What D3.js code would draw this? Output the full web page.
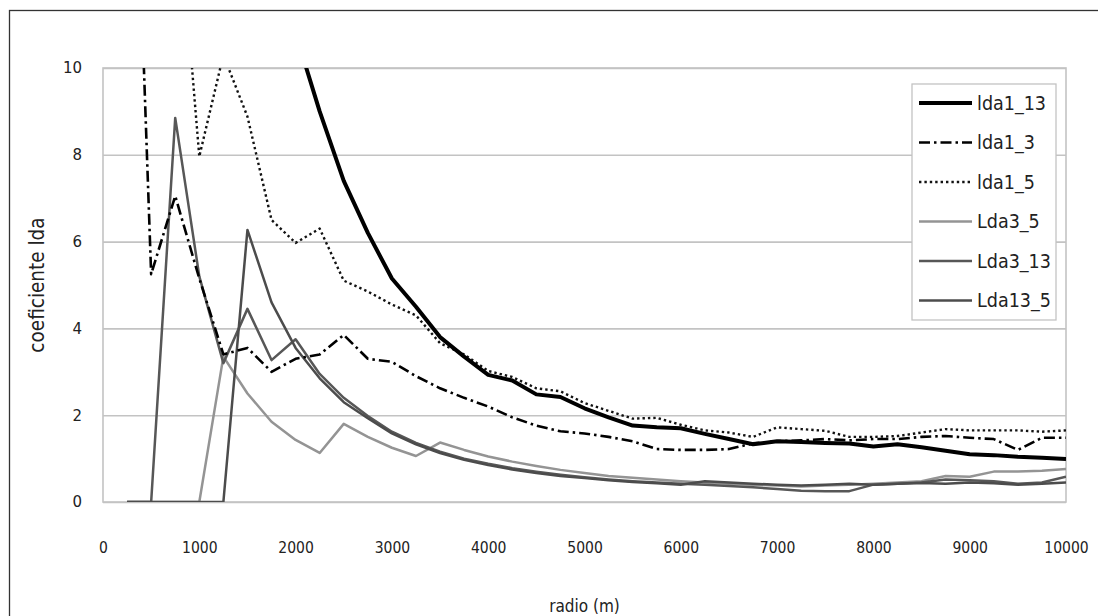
<!DOCTYPE html>
<html>
<head>
<meta charset="utf-8">
<script src="https://cdn.jsdelivr.net/npm/d3@7"></script>
<style>
  body { margin: 0; background: #fff; }
  svg { display: block; }
  text { font-family: "DejaVu Sans"; font-stretch: condensed; }
</style>
</head>
<body>
<svg id="chart" width="1098" height="616"></svg>
<script>
// radio (m), one point every 250 m
var radios = [250, 500, 750, 1000, 1250, 1500, 1750, 2000, 2250, 2500,
  2750, 3000, 3250, 3500, 3750, 4000, 4250, 4500, 4750, 5000,
  5250, 5500, 5750, 6000, 6250, 6500, 6750, 7000, 7250, 7500,
  7750, 8000, 8250, 8500, 8750, 9000, 9250, 9500, 9750, 10000];

var lda1_13 = [50, 38, 30, 25, 20, 16, 13, 10.8, 9.0, 7.4,
  6.2, 5.15, 4.5, 3.8, 3.35, 2.93, 2.8, 2.48, 2.42, 2.16,
  1.95, 1.76, 1.72, 1.7, 1.57, 1.45, 1.33, 1.4, 1.38, 1.36,
  1.35, 1.28, 1.33, 1.26, 1.18, 1.1, 1.08, 1.04, 1.02, 0.99];

var lda1_3 = [21, 5.25, 7.05, 5.15, 3.4, 3.55, 3.0, 3.3, 3.4, 3.85,
  3.3, 3.23, 2.9, 2.62, 2.4, 2.2, 1.95, 1.76, 1.63, 1.58,
  1.5, 1.4, 1.22, 1.2, 1.2, 1.22, 1.35, 1.4, 1.42, 1.45,
  1.42, 1.45, 1.45, 1.5, 1.52, 1.48, 1.45, 1.2, 1.48, 1.48];

var lda1_5 = [30, 22, 14.7, 7.96, 10.3, 8.88, 6.5, 5.97, 6.3, 5.1,
  4.85, 4.55, 4.3, 3.66, 3.4, 3.02, 2.88, 2.62, 2.55, 2.28,
  2.1, 1.92, 1.94, 1.78, 1.65, 1.6, 1.5, 1.72, 1.68, 1.64,
  1.5, 1.5, 1.52, 1.6, 1.68, 1.65, 1.65, 1.65, 1.62, 1.65];

var lda3_5 = [0, 0, 0, 0, 3.35, 2.5, 1.85, 1.43, 1.13, 1.8,
  1.5, 1.25, 1.06, 1.37, 1.2, 1.05, 0.93, 0.83, 0.74, 0.67,
  0.6, 0.56, 0.52, 0.48, 0.45, 0.42, 0.4, 0.38, 0.36, 0.38,
  0.4, 0.42, 0.45, 0.48, 0.6, 0.58, 0.7, 0.7, 0.72, 0.76];

var lda3_13 = [0, 0, 8.85, 5.2, 3.2, 4.45, 3.27, 3.75, 2.95, 2.4,
  1.98, 1.62, 1.36, 1.16, 1.0, 0.88, 0.78, 0.7, 0.63, 0.57,
  0.52, 0.48, 0.45, 0.42, 0.4, 0.37, 0.34, 0.3, 0.26, 0.25,
  0.25, 0.4, 0.42, 0.45, 0.52, 0.5, 0.48, 0.42, 0.45, 0.58];

var lda13_5 = [0, 0, 0, 0, 0, 6.27, 4.6, 3.55, 2.85, 2.3,
  1.93, 1.58, 1.33, 1.13, 0.97, 0.85, 0.75, 0.67, 0.6, 0.55,
  0.5, 0.46, 0.43, 0.4, 0.48, 0.45, 0.42, 0.4, 0.38, 0.4,
  0.42, 0.4, 0.42, 0.44, 0.42, 0.45, 0.43, 0.4, 0.42, 0.45];

var xTicks = [0, 1000, 2000, 3000, 4000, 5000, 6000, 7000, 8000, 9000, 10000];
var yTicks = [0, 2, 4, 6, 8, 10];

var series = [
  { name: "lda1_13", values: lda1_13, color: "#000", width: 4, dash: null },
  { name: "lda1_3", values: lda1_3, color: "#000", width: 2.6, dash: "11,4,2.5,4" },
  { name: "lda1_5", values: lda1_5, color: "#111", width: 2.4, dash: "2.4,3" },
  { name: "Lda3_5", values: lda3_5, color: "#949494", width: 2.5, dash: null },
  { name: "Lda3_13", values: lda3_13, color: "#575757", width: 2.5, dash: null },
  { name: "Lda13_5", values: lda13_5, color: "#4c4c4c", width: 2.5, dash: null }
];

var svg = d3.select("#chart"),
  plot = { left: 103, right: 1066, top: 68, bottom: 502 };

// outer chart frame
svg.append("rect")
  .attr("x", 9.5).attr("y", 10.5)
  .attr("width", 1200).attr("height", 700)
  .attr("fill", "#fff")
  .attr("stroke", "#333").attr("stroke-width", 1.3);

var x = d3.scaleLinear().domain([0, 10000]).range([plot.left, plot.right]);
var y = d3.scaleLinear().domain([0, 10]).range([plot.bottom, plot.top]);

// gridlines + y labels
var yAxis = svg.append("g")
  .attr("transform", "translate(" + plot.left + ",0)")
  .call(d3.axisLeft(y).tickValues(yTicks)
    .tickSize(-(plot.right - plot.left)).tickPadding(21));
yAxis.select(".domain").remove();
yAxis.selectAll(".tick line").attr("stroke", "#c3c3c3").attr("stroke-width", 1.6);
yAxis.selectAll(".tick text")
  .style("font-stretch", "normal")
  .attr("font-size", 15).attr("fill", "#222");

// plot border
svg.append("rect")
  .attr("x", plot.left).attr("y", plot.top)
  .attr("width", plot.right - plot.left).attr("height", plot.bottom - plot.top)
  .attr("fill", "none").attr("stroke", "#c3c3c3").attr("stroke-width", 1.6);

var xAxis = svg.append("g")
  .attr("transform", "translate(0," + plot.bottom + ")")
  .call(d3.axisBottom(x).tickValues(xTicks).tickSize(0).tickPadding(40)
    .tickFormat(d3.format("d")));
xAxis.select(".domain").remove();
xAxis.selectAll(".tick text")
  .attr("font-size", 15.5).attr("fill", "#222");

svg.append("text")
  .attr("x", (plot.left + plot.right) / 2).attr("y", 612)
  .attr("text-anchor", "middle")
  .attr("font-size", 17).attr("fill", "#222")
  .text("radio (m)");

svg.append("text")
  .attr("transform", "translate(44," + (plot.top + plot.bottom) / 2 + ") rotate(-90)")
  .attr("text-anchor", "middle")
  .attr("font-size", 20.5).attr("fill", "#222")
  .text("coeficiente lda");

svg.append("clipPath").attr("id", "clip")
  .append("rect")
  .attr("x", plot.left).attr("y", plot.top)
  .attr("width", plot.right - plot.left).attr("height", plot.bottom - plot.top);

var line = d3.line()
  .x((d, i) => x(radios[i]))
  .y(d => y(d));

// draw grays first, black on top
var order = [3, 4, 5, 2, 1, 0];
svg.append("g").attr("clip-path", "url(#clip)")
  .selectAll("path")
  .data(order.map(i => series[i]))
  .join("path")
  .attr("d", d => line(d.values))
  .attr("fill", "none")
  .attr("stroke", d => d.color)
  .attr("stroke-width", d => d.width)
  .attr("stroke-dasharray", d => d.dash)
  .attr("stroke-linejoin", "round");

// legend
var lg = svg.append("g").attr("transform", "translate(912,84)");
lg.append("rect")
  .attr("width", 144).attr("height", 236)
  .attr("fill", "#fff").attr("stroke", "#c3c3c3").attr("stroke-width", 1.3);

var item = lg.selectAll(".item")
  .data(series)
  .join("g")
  .attr("class", "item")
  .attr("transform", (d, i) => "translate(0," + (19 + i * 39.5) + ")");

item.append("line")
  .attr("x1", 7).attr("x2", 60)
  .attr("stroke", d => d.color)
  .attr("stroke-width", d => d.width)
  .attr("stroke-dasharray", d => d.dash);

item.append("text")
  .attr("x", 65).attr("dy", "0.35em")
  .attr("font-size", 19.5).attr("fill", "#222")
  .text(d => d.name);
</script>
</body>
</html>
